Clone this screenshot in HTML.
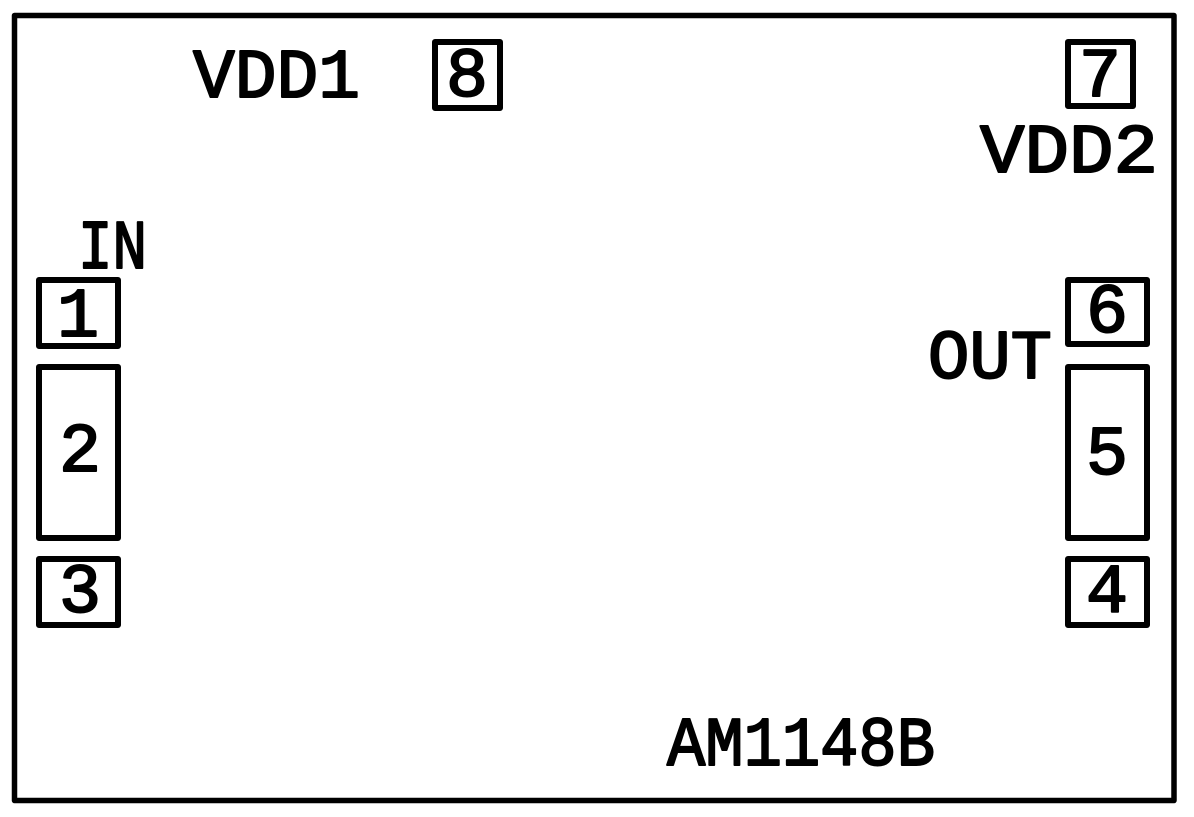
<!DOCTYPE html>
<html><head><meta charset="utf-8"><style>
html,body{margin:0;padding:0;background:#fff;}
svg{display:block;}
text{font-family:"Liberation Mono","DejaVu Sans Mono",monospace;fill:#000;stroke:#000;stroke-width:2;stroke-linejoin:round;}
</style></head><body>
<svg width="1194" height="817" viewBox="0 0 1194 817" xmlns="http://www.w3.org/2000/svg">
<g fill="none" stroke="#000" stroke-linejoin="round">
<rect x="14.5" y="15.5" width="1159.5" height="785" stroke-width="5.5"/>
<rect x="435" y="42" width="65" height="66" stroke-width="6"/>
<rect x="1068" y="42" width="65" height="64" stroke-width="6"/>
<rect x="39" y="280" width="79" height="66" stroke-width="6"/>
<rect x="39" y="367" width="79" height="171" stroke-width="6"/>
<rect x="39" y="559" width="79" height="66" stroke-width="6"/>
<rect x="1068" y="280" width="79" height="64" stroke-width="6"/>
<rect x="1068" y="367" width="79" height="171" stroke-width="6"/>
<rect x="1068" y="559" width="79" height="66" stroke-width="6"/>
</g>
<g font-size="70">
<text x="193" y="97" textLength="167" lengthAdjust="spacingAndGlyphs">VDD1</text>
<text x="467" y="96" text-anchor="middle">8</text>
<text x="1100" y="96" text-anchor="middle">7</text>
<text x="980" y="172" textLength="178" lengthAdjust="spacingAndGlyphs">VDD2</text>
<text x="78" y="268" textLength="69" lengthAdjust="spacingAndGlyphs">IN</text>
<text x="78" y="336" text-anchor="middle">1</text>
<text x="928" y="378" textLength="124" lengthAdjust="spacingAndGlyphs">OUT</text>
<text x="1107" y="332" text-anchor="middle">6</text>
<text x="80" y="471" text-anchor="middle">2</text>
<text x="1107" y="474" text-anchor="middle">5</text>
<text x="80" y="612" text-anchor="middle">3</text>
<text x="1107" y="612" text-anchor="middle">4</text>
<text x="667" y="765" textLength="268" lengthAdjust="spacingAndGlyphs">AM1148B</text>
</g>
</svg>
</body></html>
